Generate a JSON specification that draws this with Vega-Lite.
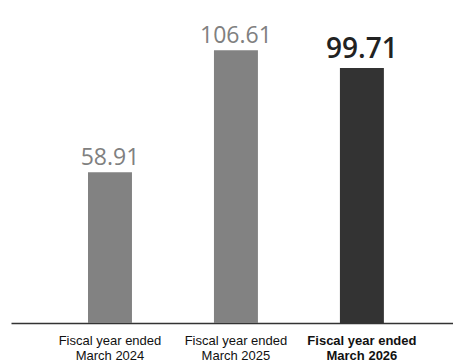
{
  "$schema": "https://vega.github.io/schema/vega-lite/v6.json",
  "width": 442,
  "height": 312,
  "autosize": {"type": "none"},
  "padding": {"left": 11, "top": 11, "right": 0, "bottom": 38},
  "background": "white",
  "config": {"view": {"stroke": null}},
  "data": {"values": [
    {"year": "2024", "value": 58.91},
    {"year": "2025", "value": 106.61},
    {"year": "2026", "value": 99.71}
  ]},
  "encoding": {
    "x": {
      "field": "year", "type": "nominal", "sort": null,
      "scale": {"paddingInner": 0.651, "paddingOuter": 0.58, "align": 0.527},
      "axis": {
        "title": null, "labelAngle": 0, "ticks": false,
        "domainColor": "#333333", "domainWidth": 1.5,
        "labelExpr": "['Fiscal year ended', 'March ' + datum.label]",
        "labelFont": "Liberation Sans", "labelFontSize": 13, "labelColor": "#111111",
        "labelPadding": 11, "labelLineHeight": 15,
        "labelFontWeight": {"condition": {"test": "datum.value == '2026'", "value": "bold"}, "value": "normal"}
      }
    },
    "y": {"field": "value", "type": "quantitative", "scale": {"domain": [0, 122], "nice": false}, "axis": null}
  },
  "layer": [
    {
      "mark": {"type": "bar"},
      "encoding": {
        "color": {"field": "year", "type": "nominal", "scale": {"domain": ["2024", "2025", "2026"], "range": ["#828282", "#828282", "#333333"]}, "legend": null}
      }
    },
    {
      "transform": [{"filter": "datum.year != '2026'"}],
      "mark": {"type": "text", "baseline": "alphabetic", "dy": -7, "font": "Open Sans", "fontSize": 23, "color": "#808080"},
      "encoding": {"text": {"field": "value", "type": "quantitative", "format": ".2f"}}
    },
    {
      "transform": [{"filter": "datum.year == '2026'"}],
      "mark": {"type": "text", "baseline": "alphabetic", "dy": -10, "font": "Open Sans", "fontSize": 28, "fontWeight": 600, "color": "#222222"},
      "encoding": {"text": {"field": "value", "type": "quantitative", "format": ".2f"}}
    }
  ]
}
